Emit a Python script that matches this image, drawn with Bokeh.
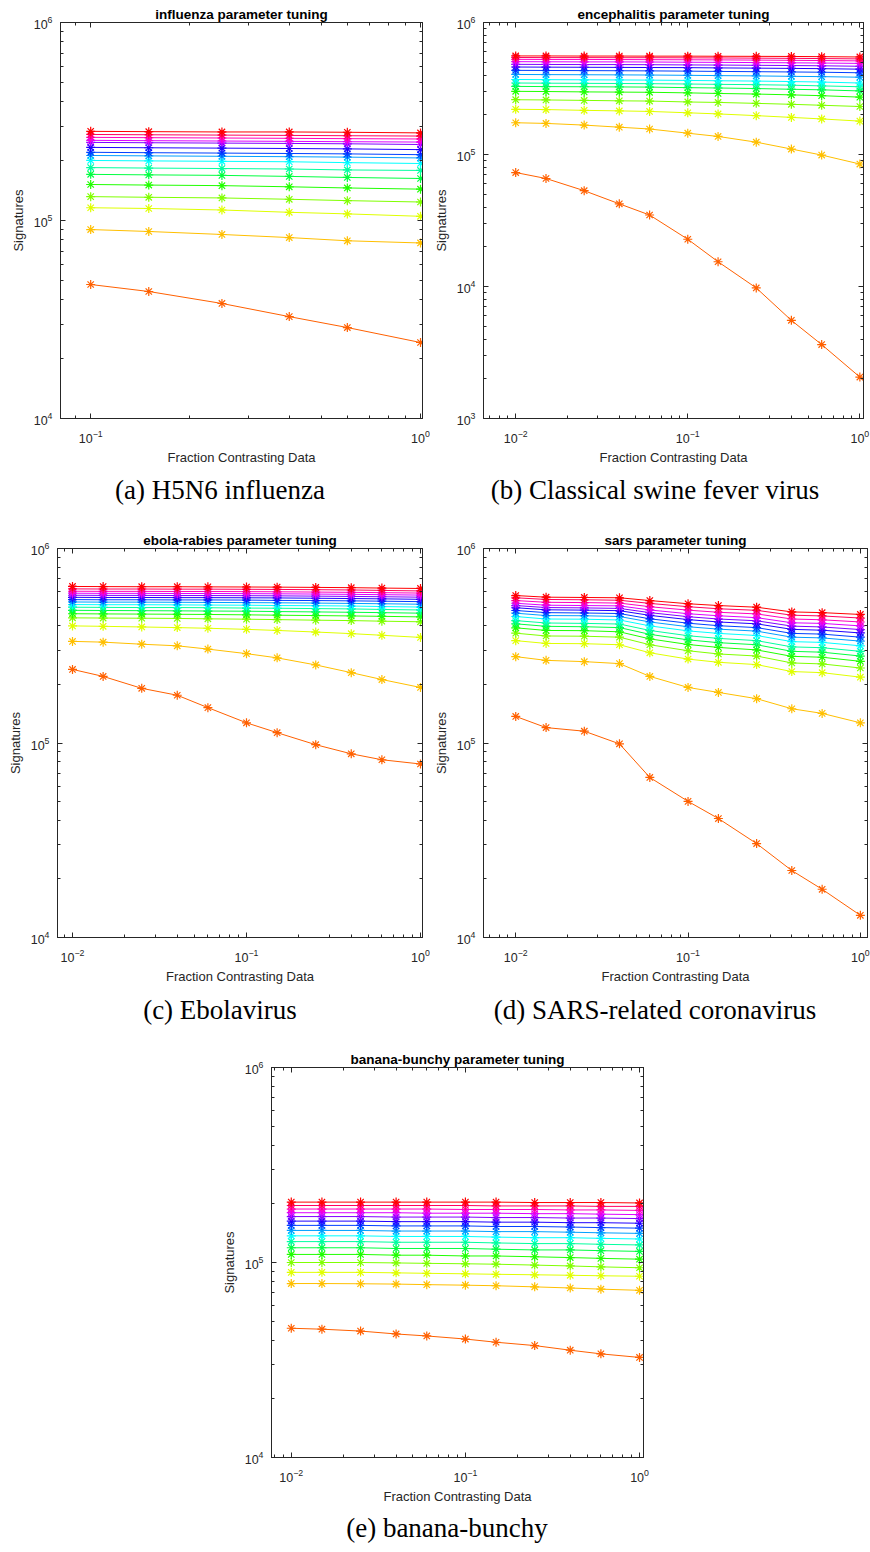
from bokeh.plotting import figure
from bokeh.layouts import column, row
from bokeh.models import FixedTicker, LogAxis, Div, Spacer, Range1d, CustomJSTickFormatter
from bokeh.embed import file_html
from bokeh.resources import INLINE

# ---------------- data (signatures in thousands) ----------------
# series order: bottom (orange) -> top (red)
series_colors = ["#FF6000", "#FFBF00", "#DFFF00", "#80FF00", "#20FF00", "#00FF40",
                 "#00FF9F", "#00FFFF", "#009FFF", "#0040FF", "#2000FF", "#8000FF",
                 "#DF00FF", "#FF00BF", "#FF0060", "#FF0000"]

frac_a = [0.1, 0.15, 0.25, 0.4, 0.6, 1.0]
frac_bcde = [0.01, 0.015, 0.025, 0.04, 0.06, 0.1, 0.15, 0.25, 0.4, 0.6, 1.0]

influenza_k = [
    [47.5, 43.8, 38.1, 32.7, 28.8, 24.2],
    [90, 88, 85, 82, 79, 77],
    [116, 115, 113, 110, 108, 105],
    [132, 131, 130, 128, 126, 124],
    [152, 151, 150, 148, 146, 144],
    [171, 170, 169, 167, 165, 163],
    [185, 184, 183, 182, 180, 179],
    [201, 200, 199, 198, 196, 194],
    [213, 212, 211, 210, 209, 207],
    [221, 220, 219, 218, 217, 215],
    [234, 233, 232, 231, 230, 228],
    [248, 247, 246, 245, 244, 242],
    [254, 253, 252, 251, 250, 249],
    [263, 262, 261, 260, 259, 258],
    [272, 271, 270, 269, 268, 267],
    [282, 281, 280, 280, 279, 277],
]

encephalitis_k = [
    [73.0, 65.8, 53.2, 42.3, 34.8, 22.8, 15.4, 9.75, 5.54, 3.63, 2.06],
    [174, 172, 167, 161, 156, 145, 137, 124, 110, 99, 84.7],
    [220, 219, 216, 214, 212, 207, 203, 197, 191, 186, 179],
    [260, 259, 257, 255, 254, 250, 248, 244, 240, 236, 231],
    [301, 300, 298, 297, 296, 293, 290, 287, 283, 279, 272],
    [328, 327, 326, 325, 324, 321, 319, 316, 312, 309, 303],
    [348, 347, 346, 345, 344, 342, 340, 338, 335, 331, 326],
    [370, 369, 368, 367, 366, 364, 362, 360, 357, 354, 348],
    [404, 403, 402, 401, 400, 398, 396, 394, 391, 389, 385],
    [434, 433, 432, 431, 430, 428, 426, 424, 422, 420, 416],
    [460, 459, 458, 457, 456, 455, 453, 451, 449, 447, 443],
    [482, 481, 480, 480, 479, 477, 476, 474, 472, 470, 466],
    [505, 504, 503, 503, 502, 500, 499, 497, 495, 493, 490],
    [526, 525, 525, 524, 523, 522, 521, 519, 517, 515, 512],
    [543, 542, 542, 541, 541, 540, 539, 537, 535, 533, 530],
    [558, 558, 557, 557, 556, 556, 555, 554, 553, 551, 548],
]

ebola_k = [
    [239, 220, 191, 176, 152, 127, 113, 98, 88, 82, 78],
    [333, 330, 322, 316, 304, 288, 274, 252, 230, 212, 193],
    [400, 398, 395, 392, 389, 384, 379, 372, 365, 358, 349],
    [440, 439, 438, 437, 435, 433, 431, 428, 426, 423, 420],
    [462, 461, 460, 459, 458, 456, 454, 452, 450, 448, 445],
    [481, 480, 479, 478, 477, 476, 474, 472, 470, 468, 465],
    [499, 498, 497, 497, 496, 494, 493, 491, 489, 486, 483],
    [515, 514, 514, 513, 512, 511, 509, 508, 506, 503, 500],
    [531, 530, 530, 529, 528, 527, 526, 524, 522, 520, 517],
    [546, 545, 545, 544, 544, 543, 541, 540, 538, 536, 533],
    [561, 560, 560, 559, 559, 558, 557, 555, 553, 551, 548],
    [575, 574, 574, 573, 573, 572, 571, 569, 567, 565, 562],
    [589, 588, 588, 587, 587, 586, 585, 583, 581, 579, 576],
    [603, 602, 602, 601, 601, 600, 599, 597, 595, 593, 590],
    [620, 619, 619, 618, 618, 617, 616, 614, 612, 609, 605],
    [638, 637, 636, 636, 635, 634, 633, 631, 629, 626, 623],
]

sars_k = [
    [137, 120, 115, 99, 66.5, 50.1, 40.9, 30.4, 22.1, 17.7, 13.0],
    [278, 266, 262, 256, 220, 193, 182, 169, 150, 142, 127],
    [336, 325, 324, 320, 291, 270, 260, 253, 233, 230, 218],
    [367, 355, 354, 350, 320, 298, 287, 280, 258, 255, 243],
    [391, 379, 378, 373, 343, 321, 310, 301, 279, 276, 263],
    [410, 398, 396, 392, 362, 339, 328, 320, 296, 293, 280],
    [426, 414, 412, 409, 379, 356, 345, 336, 312, 309, 296],
    [447, 434, 433, 429, 400, 377, 366, 357, 332, 329, 316],
    [465, 452, 451, 447, 419, 396, 385, 376, 350, 347, 334],
    [480, 468, 466, 463, 435, 413, 401, 392, 366, 363, 350],
    [496, 484, 482, 479, 453, 431, 419, 410, 384, 380, 368],
    [509, 497, 495, 492, 468, 446, 434, 425, 399, 395, 383],
    [523, 511, 509, 507, 483, 462, 451, 441, 415, 412, 400],
    [540, 529, 527, 524, 502, 482, 470, 461, 434, 430, 419],
    [558, 547, 545, 542, 522, 502, 490, 481, 454, 450, 439],
    [573, 562, 560, 558, 540, 520, 509, 499, 472, 468, 458],
]

banana_k = [
    [46, 45.5, 44.5, 43, 42, 40.5, 39, 37.5, 35.5, 34, 32.6],
    [78, 78, 77.8, 77.5, 77, 76.5, 76, 75, 74, 73, 72],
    [89, 89, 89, 88.5, 88, 87.5, 87, 86.5, 86, 85.5, 85],
    [100, 100, 100, 99.5, 99, 98.5, 98, 97, 96, 95, 94],
    [110, 110, 110, 109, 109, 108, 108, 107, 106, 105, 104],
    [119, 119, 119, 118, 118, 118, 117, 116, 116, 115, 114],
    [128, 128, 128, 127, 127, 127, 126, 125, 125, 124, 123],
    [137, 137, 137, 136, 136, 136, 135, 134, 134, 133, 132],
    [146, 146, 146, 145, 145, 145, 144, 144, 143, 142, 141],
    [155, 155, 155, 154, 154, 154, 153, 153, 152, 151, 150],
    [163, 163, 163, 162, 162, 162, 161, 161, 160, 160, 159],
    [172, 172, 172, 171, 171, 171, 170, 170, 169, 169, 168],
    [180, 180, 180, 180, 179, 179, 179, 178, 178, 177, 176],
    [188, 188, 188, 188, 188, 187, 187, 187, 186, 186, 185],
    [196, 196, 196, 196, 196, 196, 195, 195, 195, 194, 194],
    [204, 204, 204, 204, 204, 204, 204, 203, 203, 203, 202],
]

# tick positions
x_major_a = [0.1, 1.0]
x_minor_a = [0.09, 0.2, 0.3, 0.4, 0.5, 0.6, 0.7, 0.8, 0.9]
x_major_b = [0.01, 0.1, 1.0]
x_minor_b = [0.007, 0.008, 0.009, 0.02, 0.03, 0.04, 0.05, 0.06, 0.07, 0.08, 0.09,
             0.2, 0.3, 0.4, 0.5, 0.6, 0.7, 0.8, 0.9]
y_major_3dec = [1e3, 1e4, 1e5, 1e6]
y_major_2dec = [1e4, 1e5, 1e6]
y_minor_3dec = [2e3, 3e3, 4e3, 5e3, 6e3, 7e3, 8e3, 9e3,
                2e4, 3e4, 4e4, 5e4, 6e4, 7e4, 8e4, 9e4,
                2e5, 3e5, 4e5, 5e5, 6e5, 7e5, 8e5, 9e5]
y_minor_2dec = [2e4, 3e4, 4e4, 5e4, 6e4, 7e4, 8e4, 9e4,
                2e5, 3e5, 4e5, 5e5, 6e5, 7e5, 8e5, 9e5]

titles = ["influenza parameter tuning", "encephalitis parameter tuning",
          "ebola-rabies parameter tuning", "sars parameter tuning",
          "banana-bunchy parameter tuning"]
captions = ["(a) H5N6 influenza", "(b) Classical swine fever virus", "(c) Ebolavirus",
            "(d) SARS-related coronavirus", "(e) banana-bunchy"]

FONT = "Liberation Sans"
AX = "#262626"


def style_axis(ax, labels=True):
    ax.axis_line_color = AX
    ax.major_tick_line_color = AX
    ax.minor_tick_line_color = AX
    ax.major_tick_in = 5
    ax.major_tick_out = 0
    ax.minor_tick_in = 3
    ax.minor_tick_out = 0
    ax.major_label_text_font = FONT
    ax.major_label_text_font_size = "12.5px"
    ax.major_label_text_color = AX
    ax.axis_label_text_font = FONT
    ax.axis_label_text_font_size = "13px"
    ax.axis_label_text_font_style = "normal"
    ax.axis_label_text_color = AX
    if not labels:
        ax.formatter = CustomJSTickFormatter(code="return ''")
        ax.major_label_text_font_size = "0px"
        ax.major_label_standoff = 0


def panel(title, xs, series, xr, yr, xmaj, xmin_, ymaj, ymin_, fw, fh, bl, br, bt, bb):
    p = figure(x_axis_type="log", y_axis_type="log",
               x_range=Range1d(*xr), y_range=Range1d(*yr),
               frame_width=fw, frame_height=fh,
               min_border_left=bl, min_border_right=br,
               min_border_top=bt, min_border_bottom=bb,
               output_backend="svg", toolbar_location=None, title=title)
    p.title.text_font = FONT
    p.title.text_font_size = "13.5px"
    p.title.text_font_style = "bold"
    p.title.text_color = "#000000"
    p.title.align = "center"
    p.title.standoff = 2
    p.grid.visible = False
    p.outline_line_color = AX
    p.outline_line_width = 1

    p.xaxis[0].ticker = FixedTicker(ticks=xmaj, minor_ticks=xmin_)
    p.yaxis[0].ticker = FixedTicker(ticks=ymaj, minor_ticks=ymin_)
    style_axis(p.xaxis[0])
    style_axis(p.yaxis[0])
    p.xaxis[0].major_label_standoff = 11
    p.yaxis[0].major_label_standoff = 8
    p.xaxis[0].axis_label_standoff = 4
    p.yaxis[0].axis_label_standoff = 5
    p.xaxis[0].axis_label = "Fraction Contrasting Data"
    p.yaxis[0].axis_label = "Signatures"

    ax_r = LogAxis(ticker=FixedTicker(ticks=ymaj, minor_ticks=ymin_))
    style_axis(ax_r, labels=False)
    p.add_layout(ax_r, "right")
    ax_t = LogAxis(ticker=FixedTicker(ticks=xmaj, minor_ticks=xmin_))
    style_axis(ax_t, labels=False)
    p.add_layout(ax_t, "above")

    for ys, c in zip(series, series_colors):
        vals = [v * 1000 for v in ys]
        p.line(xs, vals, line_color=c, line_width=1)
        p.scatter(xs, vals, marker="asterisk", size=9, line_color=c, line_width=1.2)
    return p


def caption(text, width, height):
    return Div(text=text, width=width, height=height, margin=0,
               styles={"font-family": "'Liberation Serif', serif", "font-size": "27px",
                       "text-align": "center", "line-height": f"{height}px",
                       "color": "#000000", "white-space": "nowrap"})


fa = panel(titles[0], frac_a, influenza_k, (0.081, 1.014), (1e4, 1e6),
           x_major_a, x_minor_a, y_major_2dec, y_minor_2dec, 362, 396, 60, 8, 22, 50)
fb = panel(titles[1], frac_bcde, encephalitis_k, (0.0065, 1.05), (1e3, 1e6),
           x_major_b, x_minor_b, y_major_3dec, y_minor_3dec, 380, 396, 48, 12, 22, 50)
fc = panel(titles[2], frac_bcde, ebola_k, (0.0082, 1.027), (1e4, 1e6),
           x_major_b, x_minor_b, y_major_2dec, y_minor_2dec, 365, 389, 57, 8, 36, 50)
fd = panel(titles[3], frac_bcde, sars_k, (0.0065, 1.1), (1e4, 1e6),
           x_major_b, x_minor_b, y_major_2dec, y_minor_2dec, 384, 389, 48, 8, 36, 50)
fe = panel(titles[4], frac_bcde, banana_k, (0.0077, 1.054), (1e4, 1e6),
           x_major_b, x_minor_b, y_major_2dec, y_minor_2dec, 372, 390, 52, 8, 34, 48)

layout = column(
    row(fa, fb),
    row(caption(captions[0], 440, 44), caption(captions[1], 430, 44)),
    row(fc, fd),
    row(caption(captions[2], 440, 46), caption(captions[3], 430, 46)),
    row(Spacer(width=218, height=10), fe),
    row(Spacer(width=218, height=10), caption(captions[4], 458, 44)),
)

open("out.html", "w").write(file_html(layout, INLINE))
